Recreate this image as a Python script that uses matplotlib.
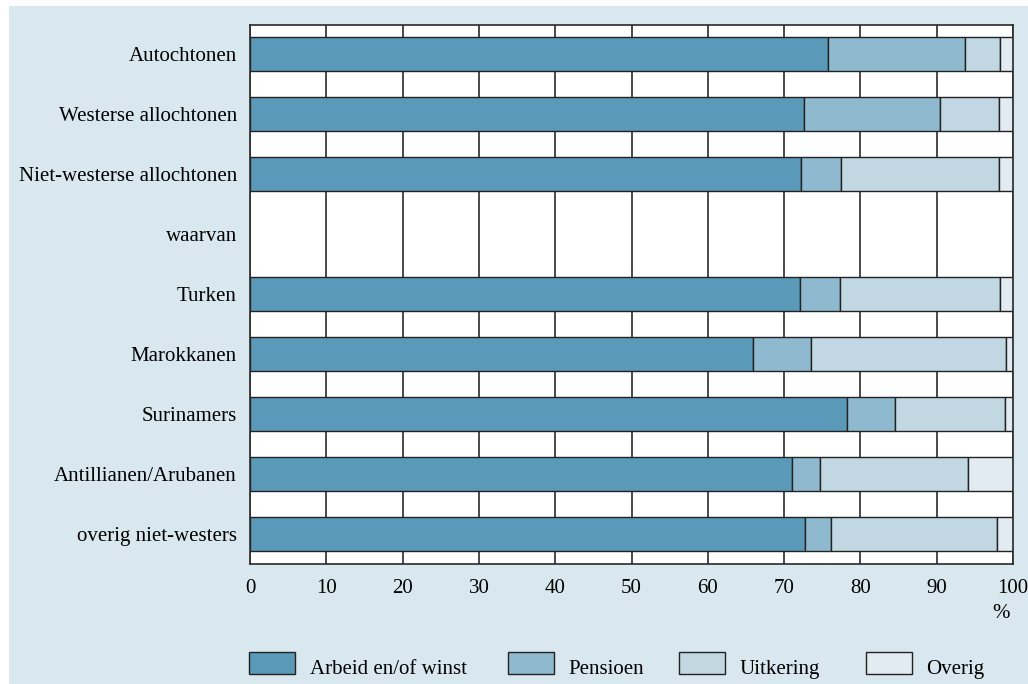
import matplotlib
matplotlib.use("Agg")
import matplotlib.pyplot as plt
from matplotlib.patches import Rectangle
import numpy as np

categories = ["Autochtonen", "Westerse allochtonen", "Niet-westerse allochtonen",
              "waarvan", "Turken", "Marokkanen", "Surinamers",
              "Antillianen/Arubanen", "overig niet-westers"]
series_names = ["Arbeid en/of winst", "Pensioen", "Uitkering", "Overig"]
arbeid    = [75.7, 72.6, 72.2, np.nan, 72.1, 65.9, 78.3, 71.1, 72.7]
pensioen  = [18.0, 17.8,  5.2, np.nan,  5.2,  7.6,  6.2,  3.6,  3.4]
uitkering = [ 4.6,  7.7, 20.8, np.nan, 21.0, 25.6, 14.5, 19.4, 21.8]
overig    = [ 1.7,  1.9,  1.8, np.nan,  1.7,  0.9,  1.0,  5.9,  2.1]
xticks = [0, 10, 20, 30, 40, 50, 60, 70, 80, 90, 100]

colors = ["#5a9ab8", "#8eb9cf", "#c1d8e3", "#e1ebf1"]
bg = "#d9e7ef"
W, H = 1028, 684
FONT = "Liberation Serif"
FS = 15

fig = plt.figure(figsize=(W / 100, H / 100), dpi=100)
fig.patch.set_facecolor("white")
fig.add_artist(Rectangle((9 / W, 0), 1 - 9 / W, 1 - 6 / H, transform=fig.transFigure,
                         facecolor=bg, edgecolor="none", zorder=-10))

ax = fig.add_axes([250 / W, 1 - 564 / H, (1013 - 250) / W, (564 - 25) / H])
ax.set_facecolor("white")

y = np.arange(len(categories))
left = np.zeros(len(categories))
for vals, c, name in zip([arbeid, pensioen, uitkering, overig], colors, series_names):
    v = np.array(vals, dtype=float)
    ax.barh(y, v, left=left, height=0.567, color=c, edgecolor="#222222",
            linewidth=1.0, zorder=3, label=name)
    left = left + np.nan_to_num(v)

ax.set_xlim(0, 100)
ax.set_ylim(8.5, -0.483)
ax.set_xticks(xticks)
ax.set_xticklabels([str(t) for t in xticks], fontfamily=FONT, fontsize=FS)
ax.set_yticks(y)
ax.set_yticklabels(categories, fontfamily=FONT, fontsize=FS)
ax.tick_params(axis="both", length=0)
ax.tick_params(axis="y", pad=9.5)
ax.tick_params(axis="x", pad=11)
ax.xaxis.grid(True, color="#2a2a2a", linewidth=1.2, zorder=1)
ax.set_axisbelow(True)
for s in ax.spines.values():
    s.set_color("#2a2a2a")
    s.set_linewidth(1.2)
    s.set_zorder(4)

fig.text(1010 / W, 1 - 614 / H, "%", ha="right", va="center", fontfamily=FONT, fontsize=FS)

# legend
patch_x = [249, 508, 679, 866]
text_x = [310, 568, 740, 926]
for px, tx, c, name in zip(patch_x, text_x, colors, series_names):
    fig.add_artist(Rectangle((px / W, 1 - 674 / H), 46 / W, 22 / H,
                             transform=fig.transFigure, facecolor=c,
                             edgecolor="#222222", linewidth=1.0))
    fig.text(tx / W, 1 - 674 / H, name, ha="left", va="baseline",
             fontfamily=FONT, fontsize=FS)

fig.savefig("out.png", dpi=100)
